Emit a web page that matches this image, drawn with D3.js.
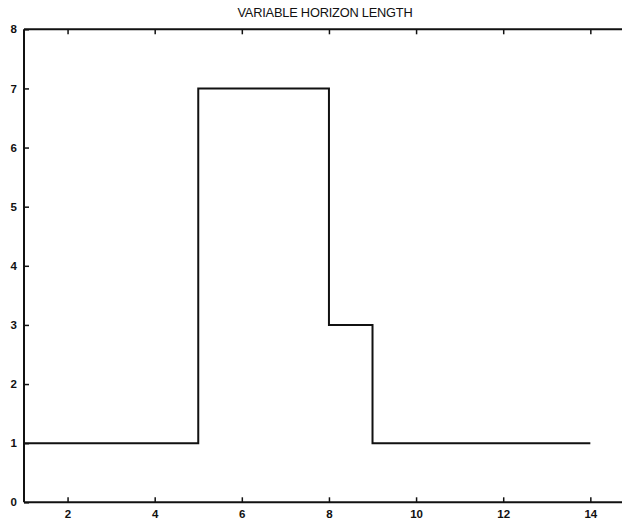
<!DOCTYPE html>
<html><head><meta charset="utf-8">
<script src="https://cdn.jsdelivr.net/npm/d3@7"></script>
<style>body{margin:0;background:#fff}svg{display:block}</style>
</head><body>
<script>
const title = "VARIABLE HORIZON LENGTH";
const steps = [1,2,3,4,5,6,7,8,9,10,11,12,13,14];
const horizon = [1,1,1,1,7,7,7,3,1,1,1,1,1,1];
const xTicks = [2,4,6,8,10,12,14];
const yTicks = [0,1,2,3,4,5,6,7,8];

const W = 622, H = 523;
const svg = d3.select("body").append("svg").attr("width", W).attr("height", H);
const x = d3.scaleLinear().domain([1, 15]).range([24, 633.9]);
const y = d3.scaleLinear().domain([0, 8]).range([502.3, 29.3]);
const font = "'Liberation Sans', Arial, sans-serif";

svg.append("text").attr("x", 325).attr("y", 17).attr("text-anchor", "middle")
  .attr("font-family", font).attr("font-size", 12.8).attr("fill", "#111")
  .attr("letter-spacing", -0.2).text(title);

const g = svg.append("g").attr("stroke", "#111");
g.append("line").attr("x1", x(1)).attr("x2", x(15)).attr("y1", y(0)).attr("y2", y(0)).attr("stroke-width", 2);
g.append("line").attr("x1", x(1)).attr("x2", x(15)).attr("y1", y(8)).attr("y2", y(8)).attr("stroke-width", 2);
g.append("line").attr("x1", x(1)).attr("x2", x(1)).attr("y1", y(0)).attr("y2", y(8)).attr("stroke-width", 2);

const xb = svg.append("g").attr("transform", `translate(0,${y(0)})`)
  .call(d3.axisBottom(x).tickValues(xTicks).tickSize(-5).tickPadding(8).tickFormat(d3.format("d")));
const xt = svg.append("g").attr("transform", `translate(0,${y(8)})`)
  .call(d3.axisTop(x).tickValues(xTicks).tickSize(-5).tickFormat(""));
const yl = svg.append("g").attr("transform", `translate(${x(1)},0)`)
  .call(d3.axisLeft(y).tickValues(yTicks).tickSize(-5).tickPadding(7).tickFormat(d3.format("d")));
[xb, xt, yl].forEach(a => {
  a.select(".domain").remove();
  a.selectAll(".tick line").attr("stroke", "#111").attr("stroke-width", 1.5);
  a.selectAll(".tick text").attr("font-family", font).attr("font-size", 11.5)
    .attr("font-weight", "bold").attr("fill", "#111");
});

const line = d3.line().x((d, i) => x(steps[i])).y(d => y(d)).curve(d3.curveStepAfter);
svg.append("path").datum(horizon).attr("d", line).attr("fill", "none")
  .attr("stroke", "#111").attr("stroke-width", 2);
</script>
</body></html>
